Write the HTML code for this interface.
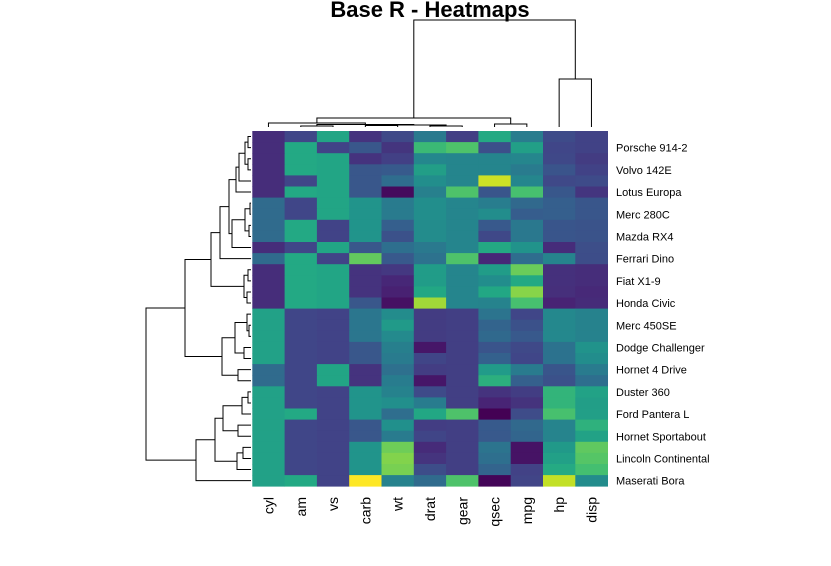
<!DOCTYPE html>
<html><head><meta charset="utf-8"><style>
html,body{margin:0;padding:0;background:#fff;}
svg{display:block;font-family:"Liberation Sans",sans-serif;}
</style></head><body>
<svg id="chart" width="831" height="566" viewBox="0 0 831 566">
<text x="430" y="17" text-anchor="middle" font-size="22" font-weight="bold">Base R - Heatmaps</text>
<g id="cells"></g><g id="rowdend"></g><g id="coldend"></g><g id="rlabels"></g><g id="clabels"></g>
</svg>
<script>
const columns = ["cyl","am","vs","carb","wt","drat","gear","qsec","mpg","hp","disp"];
const rowNames = ["Toyota Corona","Porsche 914-2","Datsun 710","Volvo 142E","Merc 230","Lotus Europa","Merc 280","Merc 280C","Mazda RX4 Wag","Mazda RX4","Merc 240D","Ferrari Dino","Fiat 128","Fiat X1-9","Toyota Corolla","Honda Civic","Merc 450SLC","Merc 450SE","Merc 450SL","Dodge Challenger","AMC Javelin","Hornet 4 Drive","Valiant","Duster 360","Camaro Z28","Ford Pantera L","Pontiac Firebird","Hornet Sportabout","Cadillac Fleetwood","Lincoln Continental","Chrysler Imperial","Maserati Bora"];
// raw values per row: cyl, am, vs, carb, wt, drat, gear, qsec, mpg, hp, disp
const rawValues = [
[4,0,1,1,2.465,3.7,3,20.01,21.5,97,120.1],
[4,1,0,2,2.14,4.43,5,16.7,26,91,120.3],
[4,1,1,1,2.32,3.85,4,18.61,22.8,93,108],
[4,1,1,2,2.78,4.11,4,18.6,21.4,109,121],
[4,0,1,2,3.15,3.92,4,22.9,22.8,95,140.8],
[4,1,1,2,1.513,3.77,5,16.9,30.4,113,95.1],
[6,0,1,4,3.44,3.92,4,18.3,19.2,123,167.6],
[6,0,1,4,3.44,3.92,4,18.9,17.8,123,167.6],
[6,1,0,4,2.875,3.9,4,17.02,21,110,160],
[6,1,0,4,2.62,3.9,4,16.46,21,110,160],
[4,0,1,2,3.19,3.69,4,20,24.4,62,146.7],
[6,1,0,6,2.77,3.62,5,15.5,19.7,175,145],
[4,1,1,1,2.2,4.08,4,19.47,32.4,66,78.7],
[4,1,1,1,1.935,4.08,4,18.9,27.3,66,79],
[4,1,1,1,1.835,4.22,4,19.9,33.9,65,71.1],
[4,1,1,2,1.615,4.93,4,18.52,30.4,52,75.7],
[8,0,0,3,3.78,3.07,3,18,15.2,180,275.8],
[8,0,0,3,4.07,3.07,3,17.4,16.4,180,275.8],
[8,0,0,3,3.73,3.07,3,17.6,17.3,180,275.8],
[8,0,0,2,3.52,2.76,3,16.87,15.5,150,318],
[8,0,0,2,3.435,3.15,3,17.3,15.2,150,304],
[6,0,1,1,3.215,3.08,3,19.44,21.4,110,258],
[6,0,1,1,3.46,2.76,3,20.22,18.1,105,225],
[8,0,0,4,3.57,3.21,3,15.84,14.3,245,360],
[8,0,0,4,3.84,3.73,3,15.41,13.3,245,350],
[8,1,0,4,3.17,4.22,5,14.5,15.8,264,351],
[8,0,0,2,3.845,3.08,3,17.05,19.2,175,400],
[8,0,0,2,3.44,3.15,3,17.02,18.7,175,360],
[8,0,0,4,5.25,2.93,3,17.98,10.4,205,472],
[8,0,0,4,5.424,3,3,17.82,10.4,215,460],
[8,0,0,4,5.345,3.23,3,17.42,14.7,230,440],
[8,1,0,8,3.57,3.54,5,14.6,15,335,301]
];
// dendrogram merge heights [height, left, right]
const rowTree = [105,[66,[40,[31,[22,[15,[12,[6,[3,0,1],[3,2,3]],4],5],[19,[6,[1,6,7],[2,8,9]],10]],11],[7,[3,12,13],[4,14,15]]],[29,[16,[4,16,[2,17,18]],[7,19,20]],[13,21,22]]],[55,[36,[28,[9,[3,23,24],25],[13,26,27]],[14,[8,28,29],30]],31]];
const colTree = [107,[9,[4,0,[2.5,[1,1,2],[2,[1.5,3,4],[1,5,6]]]],[3,7,8]],[48,9,10]];

const X0=252.3, CW=32.3, Y0=131, RH=11.1;
const NS='http://www.w3.org/2000/svg';
function mk(tag,attrs,parent){const e=document.createElementNS(NS,tag);for(const k in attrs)e.setAttribute(k,attrs[k]);parent.appendChild(e);return e;}
const vir=[[68,1,84],[72,36,117],[65,68,135],[53,95,141],[42,120,142],[33,145,140],[34,168,132],[68,191,112],[122,209,81],[189,223,38],[253,231,37]];
function viridis(t){t=Math.max(0,Math.min(1,t))*(vir.length-1);const i=Math.min(vir.length-2,Math.floor(t)),f=t-i;const c=vir[i].map((v,k)=>Math.round(v+(vir[i+1][k]-v)*f));return `rgb(${c[0]},${c[1]},${c[2]})`;}
const nR=rawValues.length,nC=columns.length;
const z=rawValues.map(r=>r.slice());
for(let j=0;j<nC;j++){let m=0;for(let i=0;i<nR;i++)m+=rawValues[i][j];m/=nR;let s=0;for(let i=0;i<nR;i++)s+=(rawValues[i][j]-m)**2;s=Math.sqrt(s/(nR-1));for(let i=0;i<nR;i++)z[i][j]=(rawValues[i][j]-m)/s;}
let zmin=Infinity,zmax=-Infinity;z.forEach(r=>r.forEach(v=>{zmin=Math.min(zmin,v);zmax=Math.max(zmax,v);}));
const cells=document.getElementById('cells');
for(let i=0;i<nR;i++)for(let j=0;j<nC;j++){
 const r=mk('rect',{x:X0+j*CW,y:Y0+i*RH,width:CW+0.4,height:RH+0.4,fill:viridis((z[i][j]-zmin)/(zmax-zmin))},cells);
 
 
}
const rl=document.getElementById('rlabels');
for(let i=1;i<nR;i+=2){const t=mk('text',{x:616,y:Y0+(i+0.5)*RH+4,'font-size':11},rl);t.textContent=rowNames[i];
 
 }
const cl=document.getElementById('clabels');
columns.forEach((c,j)=>{const cx=X0+(j+0.5)*CW+5;const t=mk('text',{x:cx,y:497,'font-size':14,'text-anchor':'end',transform:`rotate(-90 ${cx} 497)`},cl);t.textContent=c;
 
 });
function drawTree(node,pos,hpos,base,g,horiz){
 if(typeof node==='number')return {p:pos(node),h:base};
 const a=drawTree(node[1],pos,hpos,base,g,horiz),b=drawTree(node[2],pos,hpos,base,g,horiz);
 const h=hpos(node[0]);
 const d=horiz?`M${a.h},${a.p}H${h}V${b.p}H${b.h}`:`M${a.p},${a.h}V${h}H${b.p}V${b.h}`;
 const p=mk('path',{d:d,fill:'none',stroke:'#000','stroke-width':1},g);
 
 
 return {p:(a.p+b.p)/2,h:h};
}
drawTree(rowTree,i=>Y0+(i+0.5)*RH,h=>251-h,251,document.getElementById('rowdend'),true);
drawTree(colTree,j=>X0+(j+0.5)*CW,h=>127-h,127,document.getElementById('coldend'),false);
</script>
</body></html>
